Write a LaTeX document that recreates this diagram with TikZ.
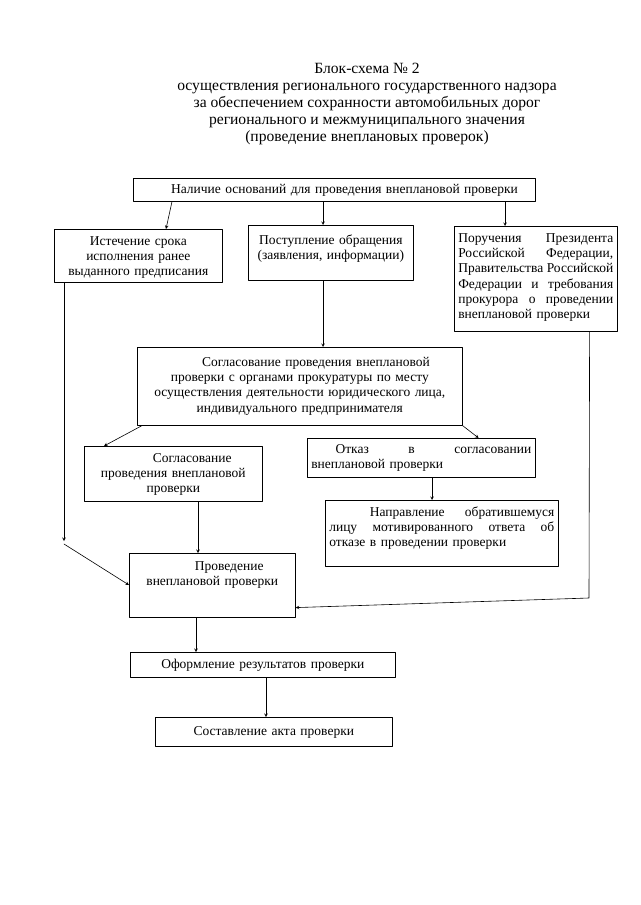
\documentclass[tikz,border=0pt]{standalone}
\usepackage{fontspec}
\setmainfont{Liberation Serif}

\begin{document}
\begin{tikzpicture}[x=1pt,y=-1pt,line cap=round,line join=round,>=stealth,
  blk/.style={draw,line width=0.6pt,inner xsep=4pt,inner ysep=3pt,anchor=north west,font=\fontsize{13.5}{15.3}\selectfont},
  con/.style={->,line width=0.6pt}]
  \useasboundingbox (0,0) rectangle (640,905);
  \node[align=center,font=\fontsize{15.6}{17}\selectfont] (title) at (367,104) {Блок-схема №~2\\ осуществления регионального государственного надзора\\ за обеспечением сохранности автомобильных дорог\\ регионального и межмуниципального значения\\ (проведение внеплановых проверок)};
  \node[blk,align=center,text width=394pt,text height=12pt,text depth=5pt] (top) at (133,178) {\hspace*{1.5em}Наличие оснований для проведения внеплановой проверки};
  \node[blk,align=center,text width=160pt,text height=13pt,text depth=34pt] (ist) at (54,229) {Истечение срока\\ исполнения ранее\\ выданного предписания};
  \node[blk,align=center,text width=157pt,text height=16pt,text depth=33pt] (post) at (248,225) {Поступление обращения\\ (заявления, информации)};
  \node[blk,align=left,text width=155pt,text height=13pt,text depth=86pt] (poruch) at (454,226) {Поручения\hfill Президента\\ Российской\hfill Федерации,\\ Правительства\hfill Российской\\ Федерации\hfill и\hfill требования\\ прокурора\hfill о\hfill проведении\\ внеплановой проверки};
  \node[blk,align=center,text width=317pt,text height=16pt,text depth=56pt] (soglas) at (137,347) {\hspace*{2.4em}Согласование проведения внеплановой\\ проверки с органами прокуратуры по месту\\ осуществления деятельности юридического лица,\\ индивидуального предпринимателя};
  \node[blk,align=center,text width=170pt,text height=13pt,text depth=36pt] (sog2) at (84,446) {\hspace*{2.8em}Согласование\\ проведения внеплановой\\ проверки};
  \node[blk,align=left,text width=220pt,text height=12pt,text depth=21pt] (otkaz) at (307,438) {\hspace*{1.8em}Отказ\hfill в\hfill согласовании\\ внеплановой проверки};
  \node[blk,align=left,text width=225pt,text height=13pt,text depth=47pt] (naprav) at (325,500) {\hspace*{3em}Направление\hfill обратившемуся\\ лицу\hfill мотивированного\hfill ответа\hfill об\\ отказе в проведении проверки};
  \node[blk,align=center,text width=158pt,text height=14pt,text depth=44pt] (prov) at (129,553) {\hspace*{2.5em}Проведение\\ внеплановой проверки};
  \node[blk,align=center,text width=257pt,text height=13pt,text depth=6pt] (oform) at (130,652) {Оформление результатов проверки};
  \node[blk,align=center,text width=229pt,text height=15pt,text depth=8pt] (sostav) at (155,717) {Составление акта проверки};
  \coordinate (lbend) at (64,541);
  \coordinate (rbend) at (589,598);
  \draw[con] ([xshift=39pt]top.south west) -- ([xshift=112pt]ist.north west);
  \draw[con] ([xshift=190pt]top.south west) -- ([xshift=75pt]post.north west);
  \draw[con] ([xshift=372pt]top.south west) -- ([xshift=51pt]poruch.north west);
  \draw[con] ([xshift=75pt]post.south west) -- ([xshift=186pt]soglas.north west);
  \draw[con] ([xshift=10pt]ist.south west) -- (lbend);
  \draw[con] ([yshift=-3pt]lbend) -- ([yshift=-32pt]prov.north west);
  \draw[con] ([xshift=5pt]soglas.south west) -- ([xshift=20pt]sog2.north west);
  \draw[con] (soglas.south east) -- ([xshift=-57pt]otkaz.north east);
  \draw[con] ([xshift=114pt]sog2.south west) -- ([xshift=69pt]prov.north west);
  \draw[con] ([xshift=125pt]otkaz.south west) -- ([xshift=107pt]naprav.north west);
  \draw[con] ([xshift=-28pt]poruch.south east) -- (rbend) -- ([yshift=10pt]prov.south east);
  \draw[con] ([xshift=67pt]prov.south west) -- ([xshift=66pt]oform.north west);
  \draw[con] ([xshift=136pt]oform.south west) -- ([xshift=111pt]sostav.north west);
\end{tikzpicture}
\end{document}
